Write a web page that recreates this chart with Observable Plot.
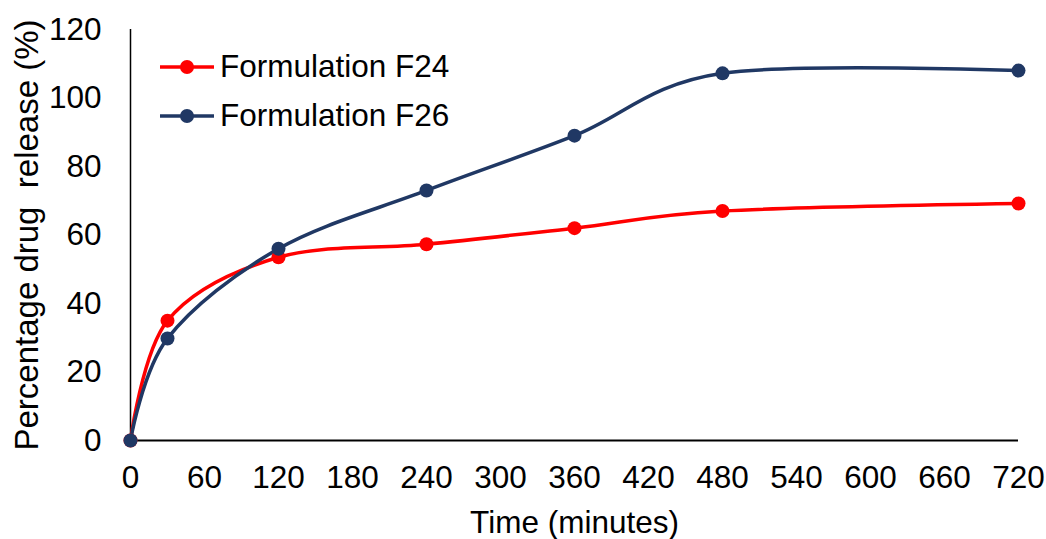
<!DOCTYPE html>
<html>
<head>
<meta charset="utf-8">
<script src="https://cdn.jsdelivr.net/npm/d3@7"></script>
<script src="https://cdn.jsdelivr.net/npm/@observablehq/plot@0.6"></script>
<style>
  html, body { margin: 0; padding: 0; background: #fff; }
  #wrap { position: relative; width: 1046px; height: 539px; font-family: "Liberation Sans", Arial, sans-serif; }
  #legend { position: absolute; left: 160px; top: 42px; font-size: 31.5px; color: #000; }
  .item { display: flex; align-items: center; height: 49px; }
  .item span { margin-left: 6px; }
</style>
</head>
<body>
<div id="wrap"></div>
<script>
const times = [0, 30, 120, 240, 360, 480, 720];
const seriesNames = ["Formulation F24", "Formulation F26"];
const f24 = [0, 35, 53.5, 57.3, 62, 67, 69.2];
const f26 = [0, 29.8, 56, 73, 89, 107.2, 108];
const colors = ["#ff0000", "#203864"];
const xTicks = [0, 60, 120, 180, 240, 300, 360, 420, 480, 540, 600, 660, 720];
const yTicks = [0, 20, 40, 60, 80, 100, 120];

const data = [];
[f24, f26].forEach((vals, si) => {
  vals.forEach((v, i) => data.push({series: seriesNames[si], t: times[i], v}));
});

const plot = Plot.plot({
  width: 1046,
  height: 539,
  marginLeft: 130,
  marginRight: 28,
  marginTop: 29,
  marginBottom: 99,
  style: {fontFamily: "'Liberation Sans', Arial, sans-serif", fontSize: "31.5px", color: "#000", background: "#fff"},
  x: {domain: [0, 720]},
  y: {domain: [0, 120]},
  color: {domain: seriesNames, range: colors},
  marks: [
    Plot.axisX({ticks: xTicks, tickSize: 0, tickPadding: 25, label: "Time (minutes)", labelAnchor: "center", labelOffset: 92, labelArrow: "none"}),
    Plot.axisY({ticks: yTicks, tickSize: 0, tickPadding: 29, label: "Percentage drug  release (%)", labelAnchor: "center", labelOffset: 116, labelArrow: "none"}),
    Plot.ruleY([0], {stroke: "#000", strokeWidth: 2}),
    Plot.ruleX([0], {stroke: "#000", strokeWidth: 1.5}),
    Plot.line(data, {x: "t", y: "v", z: "series", stroke: "series", strokeWidth: 3.5, curve: "cardinal"}),
    Plot.dot(data, {x: "t", y: "v", fill: "series", r: 7, stroke: "none"})
  ]
});
// slightly larger y-axis title, as in the reference
d3.select(plot).selectAll('g[aria-label="y-axis label"] text').style("font-size", "33px").style("white-space", "pre");
d3.select(plot).selectAll('g[aria-label="y-axis label"]').style("white-space", "pre");
const wrap = document.getElementById("wrap");
wrap.appendChild(plot);

const legend = document.createElement("div");
legend.id = "legend";
seriesNames.forEach((name, i) => {
  const item = document.createElement("div");
  item.className = "item";
  item.innerHTML = `<svg width="54" height="20"><line x1="0" y1="10" x2="54" y2="10" stroke="${colors[i]}" stroke-width="3.5"/><circle cx="27" cy="10" r="7" fill="${colors[i]}"/></svg><span>${name}</span>`;
  legend.appendChild(item);
});
wrap.appendChild(legend);
</script>
</body>
</html>
